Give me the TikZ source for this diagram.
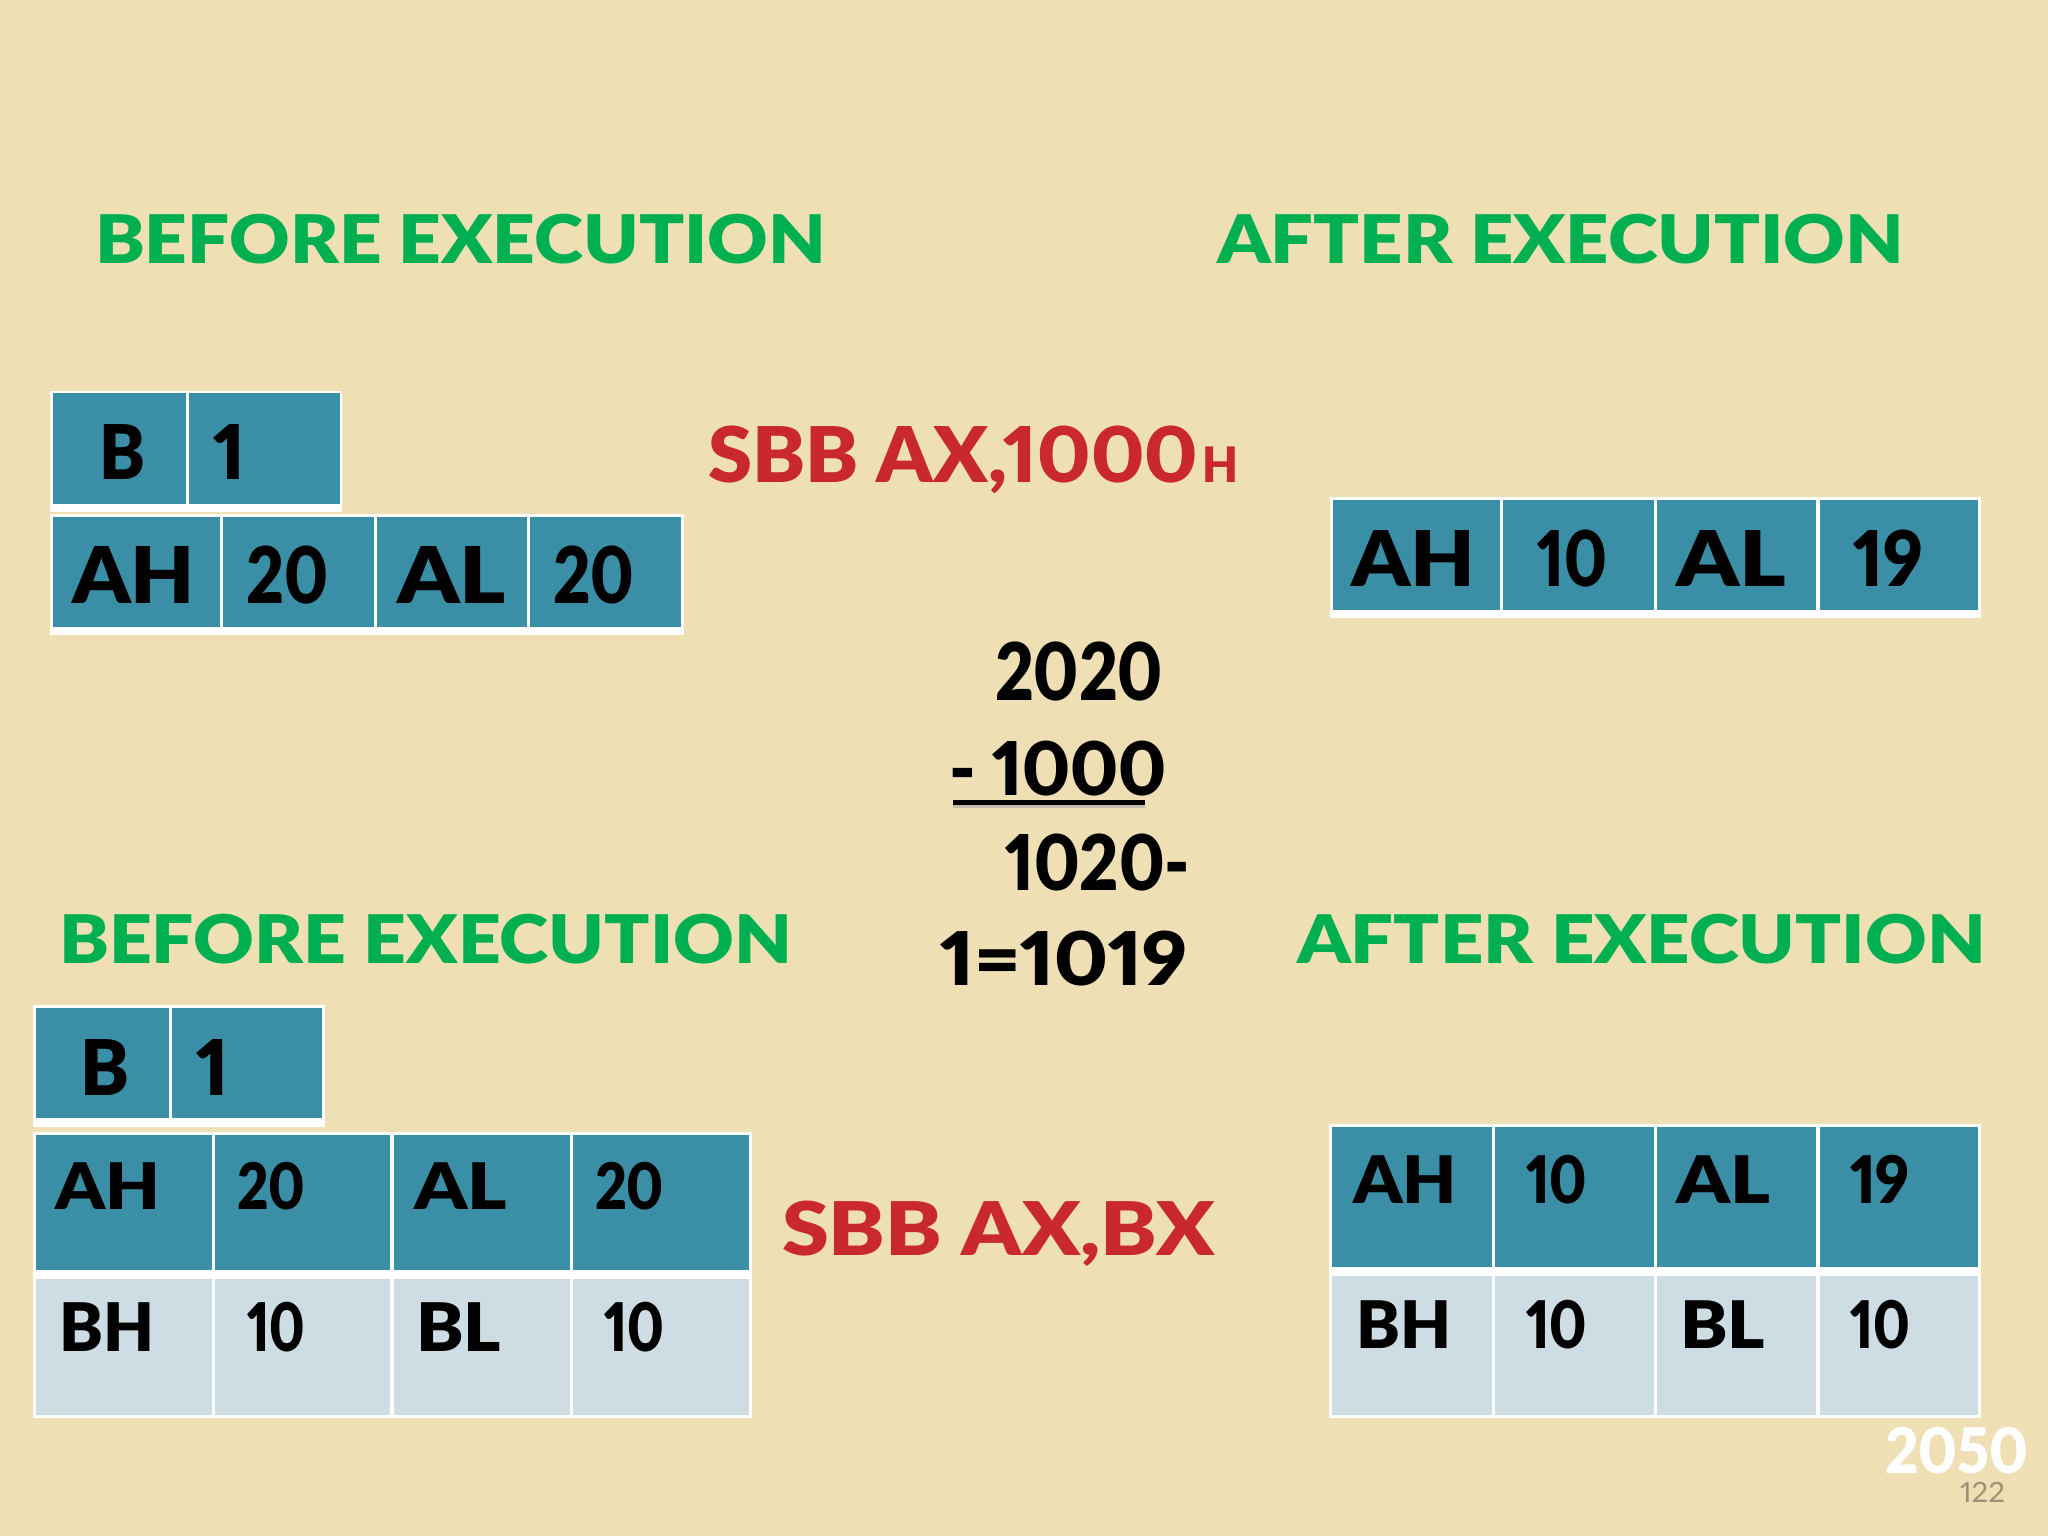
\documentclass[tikz,border=0pt]{standalone}
\usepackage{fontspec}
\setmainfont{Lato}[BoldFont={Lato Black}, Numbers=Proportional]
\usepackage{graphicx}
\definecolor{bgc}{HTML}{EEDFB4}
\definecolor{tealc}{HTML}{3A8FA7}
\definecolor{lightc}{HTML}{CEDDE3}
\definecolor{greenc}{HTML}{00B050}
\definecolor{redc}{HTML}{C8282E}
\definecolor{greyc}{HTML}{9C9277}
\newcommand{\Tx}[3]{\resizebox{#1pt}{\height}{\fontsize{#2pt}{#2pt}\selectfont\bfseries #3}}
\newcommand{\Nat}[2]{{\fontsize{#1pt}{#1pt}\selectfont\bfseries #2}}
\tikzset{
  txt/.style={inner sep=0pt, outer sep=0pt, anchor=base west, text=black},
  head/.style={txt, text=greenc},
  instr/.style={txt, text=redc},
  tblbg/.style={fill=white, draw=none, inner sep=0pt, outer sep=0pt, anchor=north west},
  dcell/.style={fill=tealc, draw=none, inner sep=0pt, outer sep=0pt, anchor=north west},
  lcell/.style={fill=lightc, draw=none, inner sep=0pt, outer sep=0pt, anchor=north west},
}
\begin{document}
\begin{tikzpicture}[x=1pt,y=-1pt]
\useasboundingbox (0,0) rectangle (2048,1536);
\fill[bgc] (0,0) rectangle (2048,1536);

% headings
\node[head] (h1) at (95,263) {\Tx{731}{67.0}{BEFORE EXECUTION}};
\node[head] (h2) at (1217,263) {\Tx{687}{67.0}{AFTER EXECUTION}};
\node[head] (h3) at (59,963) {\Tx{733}{67.0}{BEFORE EXECUTION}};
\node[head] (h4) at (1297,963) {\Tx{689}{67.0}{AFTER EXECUTION}};

% instructions
\node[instr] (ins1) at (708,482) {\Tx{490}{76.8}{SBB AX,1000}\hspace{4pt}\Tx{36}{48.9}{H}};
\node[instr] (ins2) at (782,1255) {\Tx{433}{74.0}{SBB AX,BX}};

% calculation
\node[txt] (m1) at (995,700) {\Tx{168}{79.6}{2020}};
\node[txt] (m2) at (949,795) {\Tx{218}{74.0}{- 1000}};
\node[txt] (m3) at (1005,890) {\Tx{185}{76.8}{1020-}};
\node[txt] (m4) at (940,985) {\Tx{248}{74.0}{1=1019}};
\coordinate (ulA) at (953,802);
\coordinate (ulB) at (1145,802);
\draw[black!35, line width=6pt, opacity=0.6] ([yshift=-3pt]ulA) -- ([yshift=-3pt]ulB);
\draw[black, line width=5pt] (ulA) -- (ulB);

% ---- top-left tables
\node[tblbg, minimum width=292pt, minimum height=121pt] (tlbi) at (50,391) {};
\node[dcell, minimum width=133pt, minimum height=111pt] (tlb) at (53,393) {};
\node[dcell, minimum width=151pt, minimum height=111pt] (tli) at (189,393) {};
\node[txt] (tlbt) at (99,479) {\Tx{46}{75.4}{B}};
\node[txt, anchor=base] (tlit) at (230,479) {\Nat{75.4}{1}};

\node[tblbg, minimum width=634pt, minimum height=121pt] (tlrow) at (50,514) {};
\node[dcell, minimum width=167pt, minimum height=110pt] (tlc1) at (53,517) {};
\node[dcell, minimum width=151pt, minimum height=110pt] (tlc2) at (223,517) {};
\node[dcell, minimum width=150pt, minimum height=110pt] (tlc3) at (377,517) {};
\node[dcell, minimum width=151pt, minimum height=110pt] (tlc4) at (530,517) {};
\node[txt] (tlt1) at (72,603) {\Tx{123}{78.2}{AH}};
\node[txt] (tlt2) at (246,603) {\Tx{82}{78.2}{20}};
\node[txt] (tlt3) at (397,603) {\Tx{109}{78.2}{AL}};
\node[txt] (tlt4) at (553,603) {\Tx{81}{78.2}{20}};

% ---- top-right table
\node[tblbg, minimum width=651pt, minimum height=121pt] (trrow) at (1330,497) {};
\node[dcell, minimum width=167pt, minimum height=110pt] (trc1) at (1333,500) {};
\node[dcell, minimum width=151pt, minimum height=110pt] (trc2) at (1503,500) {};
\node[dcell, minimum width=159pt, minimum height=110pt] (trc3) at (1657,500) {};
\node[dcell, minimum width=158pt, minimum height=110pt] (trc4) at (1820,500) {};
\node[txt] (trt1) at (1351,586) {\Tx{124}{76.8}{AH}};
\node[txt] (trt2) at (1537,586) {\Tx{70}{76.8}{10}};
\node[txt] (trt3) at (1676,586) {\Tx{110}{76.8}{AL}};
\node[txt] (trt4) at (1853,586) {\Tx{70}{76.8}{19}};

% ---- bottom-left tables
\node[tblbg, minimum width=292pt, minimum height=122pt] (blbi) at (33,1005) {};
\node[dcell, minimum width=133pt, minimum height=110pt] (blb) at (36,1008) {};
\node[dcell, minimum width=150pt, minimum height=110pt] (bli) at (172,1008) {};
\node[txt] (blbt) at (80,1095) {\Tx{49}{76.8}{B}};
\node[txt, anchor=base] (blit) at (213,1095) {\Nat{76.8}{1}};

\node[tblbg, minimum width=719pt, minimum height=286pt] (bltab) at (33,1132) {};
\node[dcell, minimum width=176pt, minimum height=135pt] (bla1) at (36,1135) {};
\node[dcell, minimum width=175pt, minimum height=135pt] (bla2) at (215,1135) {};
\node[dcell, minimum width=176pt, minimum height=135pt] (bla3) at (394,1135) {};
\node[dcell, minimum width=176pt, minimum height=135pt] (bla4) at (573,1135) {};
\node[lcell, minimum width=176pt, minimum height=136pt] (blb1) at (36,1279) {};
\node[lcell, minimum width=175pt, minimum height=136pt] (blb2) at (215,1279) {};
\node[lcell, minimum width=176pt, minimum height=136pt] (blb3) at (394,1279) {};
\node[lcell, minimum width=176pt, minimum height=136pt] (blb4) at (573,1279) {};
\node[txt] (blat1) at (55,1209) {\Tx{105}{64.2}{AH}};
\node[txt] (blat2) at (237,1209) {\Tx{68}{64.2}{20}};
\node[txt] (blat3) at (414,1209) {\Tx{93}{64.2}{AL}};
\node[txt] (blat4) at (595,1209) {\Tx{69}{64.2}{20}};
\node[txt] (blbt1) at (59,1351) {\Tx{95}{67.0}{BH}};
\node[txt] (blbt2) at (247,1351) {\Tx{58}{67.0}{10}};
\node[txt] (blbt3) at (416,1351) {\Tx{85}{67.0}{BL}};
\node[txt] (blbt4) at (604,1351) {\Tx{60}{67.0}{10}};

% ---- bottom-right table
\node[tblbg, minimum width=652pt, minimum height=294pt] (brtab) at (1329,1124) {};
\node[dcell, minimum width=160pt, minimum height=140pt] (bra1) at (1332,1127) {};
\node[dcell, minimum width=159pt, minimum height=140pt] (bra2) at (1495,1127) {};
\node[dcell, minimum width=159pt, minimum height=140pt] (bra3) at (1657,1127) {};
\node[dcell, minimum width=158pt, minimum height=140pt] (bra4) at (1820,1127) {};
\node[lcell, minimum width=160pt, minimum height=139pt] (brb1) at (1332,1276) {};
\node[lcell, minimum width=159pt, minimum height=139pt] (brb2) at (1495,1276) {};
\node[lcell, minimum width=159pt, minimum height=139pt] (brb3) at (1657,1276) {};
\node[lcell, minimum width=158pt, minimum height=139pt] (brb4) at (1820,1276) {};
\node[txt] (brat1) at (1353,1203) {\Tx{104}{65.6}{AH}};
\node[txt] (brat2) at (1526,1203) {\Tx{61}{65.6}{10}};
\node[txt] (brat3) at (1676,1203) {\Tx{94}{65.6}{AL}};
\node[txt] (brat4) at (1850,1203) {\Tx{60}{65.6}{19}};
\node[txt] (brbt1) at (1356,1348) {\Tx{95}{65.6}{BH}};
\node[txt] (brbt2) at (1526,1348) {\Tx{61}{65.6}{10}};
\node[txt] (brbt3) at (1680,1348) {\Tx{85}{65.6}{BL}};
\node[txt] (brbt4) at (1850,1348) {\Tx{60}{65.6}{10}};

% footer
\node[txt, text=white] (f1) at (1885,1473) {\Tx{143}{62.8}{2050}};
\node[txt, text=greyc] (f2) at (1960,1502) {\resizebox{45pt}{\height}{\fontsize{27.9pt}{27.9pt}\selectfont 122}};
\end{tikzpicture}
\end{document}
